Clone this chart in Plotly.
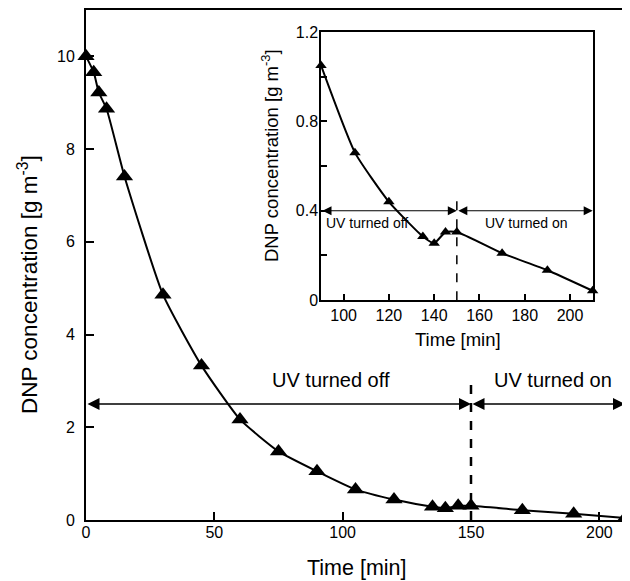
import plotly.graph_objects as go

# ---------------- data ----------------
time_min = [0, 3, 5, 8, 15, 30, 45, 60, 75, 90, 105, 120, 135, 140, 145, 150, 170, 190, 210]
dnp_conc = [10.0, 9.66, 9.22, 8.87, 7.41, 4.86, 3.33, 2.17, 1.48, 1.05, 0.66, 0.44, 0.285, 0.255,
            0.305, 0.305, 0.21, 0.134, 0.042]

inset_start = 90
inset_time = [t for t in time_min if t >= inset_start]
inset_conc = [c for t, c in zip(time_min, dnp_conc) if t >= inset_start]

main_xticks = [0, 50, 100, 150, 200]
main_yticks = [0, 2, 4, 6, 8, 10]
inset_xticks = [100, 120, 140, 160, 180, 200]
inset_yticks = [0, 0.2, 0.4, 0.6, 0.8, 1.0, 1.2]
inset_yticktext = ["0", "", "0.4", "", "0.8", "", "1.2"]

uv_switch = 150
main_arrow_level = 2.5
main_dash_top = 2.95
inset_arrow_level = 0.4
inset_dash_top = 0.48

FONT = "Liberation Sans, Arial, Helvetica, sans-serif"
ytitle = "DNP concentration [g m<sup>-3</sup>]"
xtitle = "Time [min]"

fig = go.Figure()

fig.add_trace(go.Scatter(
    x=time_min, y=dnp_conc, mode="lines+markers",
    line=dict(color="black", width=2, shape="spline", smoothing=0.5),
    marker=dict(symbol="triangle-up", size=15, color="black"),
    cliponaxis=False, showlegend=False, xaxis="x", yaxis="y"))

fig.add_trace(go.Scatter(
    x=inset_time, y=inset_conc, mode="lines+markers",
    line=dict(color="black", width=2, shape="spline", smoothing=0.5),
    marker=dict(symbol="triangle-up", size=10, color="black"),
    cliponaxis=False, showlegend=False, xaxis="x2", yaxis="y2"))

axis_common = dict(showline=True, linecolor="black", mirror=True, ticks="inside",
                   tickcolor="black", showgrid=False, zeroline=False, automargin=False)

fig.update_layout(
    width=622, height=573,
    margin=dict(l=78, r=5, t=2, b=61),
    paper_bgcolor="white", plot_bgcolor="white",
    font=dict(family=FONT, color="black"),
    xaxis=dict(range=[0, 210], tickvals=main_xticks, ticklen=8, linewidth=2, tickwidth=2,
               tickfont=dict(size=16), ticklabelstandoff=-3, **axis_common),
    yaxis=dict(range=[0, 11], tickvals=main_yticks, ticklen=8, linewidth=2, tickwidth=2,
               tickfont=dict(size=16), ticklabelstandoff=6, **axis_common),
    xaxis2=dict(domain=[0.436, 0.940], anchor="y2", range=[90, 210], tickvals=inset_xticks,
                ticklen=6, linewidth=1.5, tickwidth=1.5, tickfont=dict(size=16), **axis_common),
    yaxis2=dict(domain=[0.431, 0.957], anchor="x2", range=[0, 1.2], tickvals=inset_yticks,
                ticktext=inset_yticktext, ticklen=6, linewidth=1.5, tickwidth=1.5,
                tickfont=dict(size=16), ticklabelstandoff=-2, **axis_common),
)

# axis titles (placed as paper annotations)
fig.add_annotation(x=-0.1076, y=0.4608, xref="paper", yref="paper", text=ytitle, textangle=-90,
                   showarrow=False, font=dict(size=22.5), xanchor="center", yanchor="middle")
fig.add_annotation(x=0.5028, y=-0.0941, xref="paper", yref="paper", text=xtitle,
                   showarrow=False, font=dict(size=21.5), xanchor="center", yanchor="middle")
fig.add_annotation(x=0.3414, y=0.7137, xref="paper", yref="paper", text=ytitle, textangle=-90,
                   showarrow=False, font=dict(size=18.5), xanchor="center", yanchor="middle")
fig.add_annotation(x=0.690, y=0.353, xref="paper", yref="paper", text=xtitle,
                   showarrow=False, font=dict(size=18.5), xanchor="center", yanchor="middle")

# dashed vertical lines
fig.add_shape(type="line", xref="x", yref="y", x0=uv_switch, x1=uv_switch, y0=0, y1=main_dash_top,
              line=dict(color="black", width=2.5, dash="dash"))
fig.add_shape(type="line", xref="x2", yref="y2", x0=uv_switch, x1=uv_switch, y0=0, y1=inset_dash_top,
              line=dict(color="black", width=1.5, dash="dash"))

# double-headed arrows
def arrow(xr, yr, x0, x1, y, width, size):
    fig.add_annotation(x=x1, y=y, ax=x0, ay=y, xref=xr, yref=yr, axref=xr, ayref=yr,
                       text="", showarrow=True, arrowhead=2, startarrowhead=2,
                       arrowside="end+start", arrowwidth=width, arrowsize=size,
                       startarrowsize=size, arrowcolor="black", standoff=0, startstandoff=0)

arrow("x", "y", 0, uv_switch, main_arrow_level, 1.5, 1.6)
arrow("x", "y", uv_switch, 210, main_arrow_level, 1.5, 1.6)
arrow("x2", "y2", inset_start, uv_switch, inset_arrow_level, 1.2, 1.5)
arrow("x2", "y2", uv_switch, 210, inset_arrow_level, 1.2, 1.5)

# labels
fig.add_annotation(x=95.4, y=3.02, xref="x", yref="y", text="UV turned off", showarrow=False,
                   font=dict(size=20), xanchor="center", yanchor="middle")
fig.add_annotation(x=182, y=3.02, xref="x", yref="y", text="UV turned on", showarrow=False,
                   font=dict(size=20), xanchor="center", yanchor="middle")
fig.add_annotation(x=91.5, y=0.346, xref="x2", yref="y2", text="UV turned off", showarrow=False,
                   font=dict(size=14), xanchor="left", yanchor="middle")
fig.add_annotation(x=180.7, y=0.346, xref="x2", yref="y2", text="UV turned on", showarrow=False,
                   font=dict(size=14), xanchor="center", yanchor="middle")

fig.write_html("out.html")
